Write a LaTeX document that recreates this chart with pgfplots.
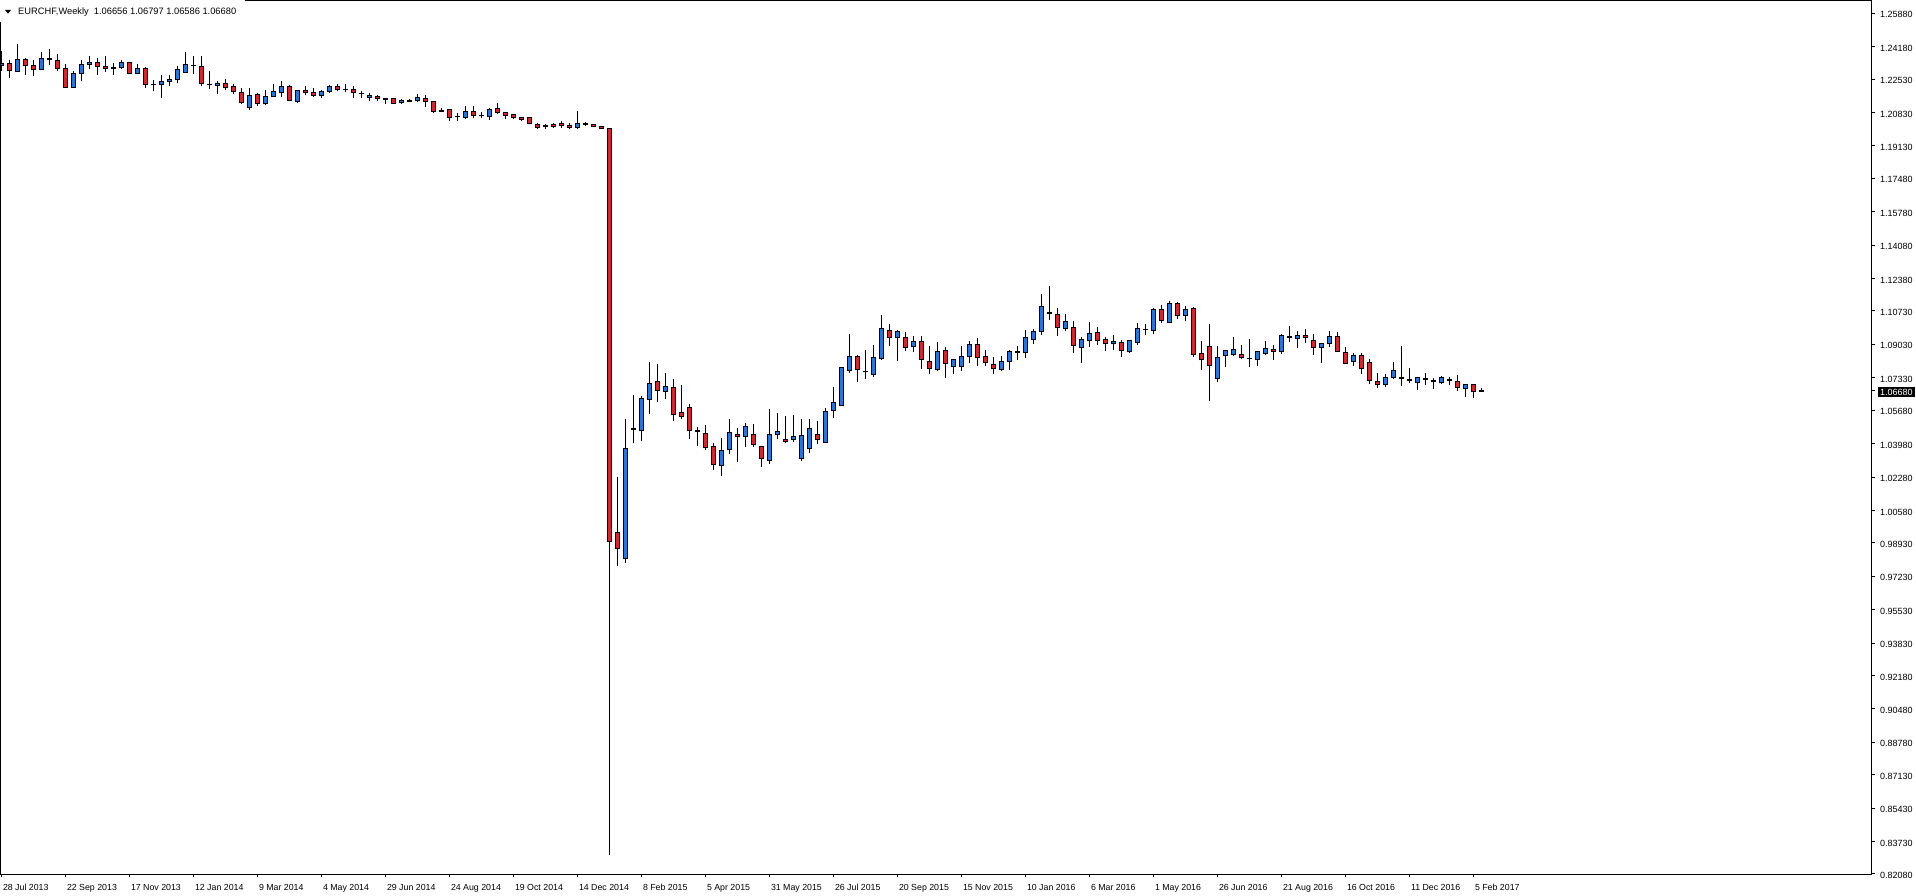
\documentclass[border=0pt]{standalone}
\usepackage{pgfplots}
\pgfplotsset{compat=1.18}
\usepackage{pgfplotstable}
\usepackage{fontspec}
\setmainfont{Liberation Sans}
\definecolor{cblue}{RGB}{30,120,225}
\definecolor{cred}{RGB}{220,35,45}

\pgfplotstableread{
x o h l c
0 1.2321 1.2396 1.2294 1.2331
1 1.2331 1.2352 1.2258 1.2296
2 1.2294 1.2430 1.2289 1.2352
3 1.2352 1.2362 1.2274 1.2321
4 1.2321 1.2352 1.2269 1.2301
5 1.2301 1.2392 1.2299 1.2357
6 1.2355 1.2408 1.2325 1.2352
7 1.2347 1.2379 1.2296 1.2308
8 1.2306 1.2331 1.2208 1.2213
9 1.2213 1.2296 1.2208 1.2282
10 1.2280 1.2348 1.2241 1.2326
11 1.2326 1.2369 1.2303 1.2336
12 1.2336 1.2359 1.2274 1.2316
13 1.2316 1.2369 1.2287 1.2306
14 1.2311 1.2333 1.2274 1.2308
15 1.2311 1.2350 1.2304 1.2336
16 1.2336 1.2338 1.2279 1.2284
17 1.2284 1.2328 1.2279 1.2306
18 1.2306 1.2314 1.2208 1.2225
19 1.2226 1.2247 1.2191 1.2224
20 1.2225 1.2272 1.2157 1.2240
21 1.2240 1.2272 1.2219 1.2250
22 1.2250 1.2318 1.2233 1.2301
23 1.2289 1.2389 1.2289 1.2326
24 1.2324 1.2369 1.2279 1.2322
25 1.2316 1.2369 1.2219 1.2230
26 1.2227 1.2292 1.2204 1.2225
27 1.2219 1.2243 1.2177 1.2231
28 1.2230 1.2255 1.2199 1.2209
29 1.2214 1.2230 1.2179 1.2189
30 1.2184 1.2209 1.2126 1.2132
31 1.2107 1.2209 1.2097 1.2170
32 1.2174 1.2184 1.2118 1.2128
33 1.2131 1.2199 1.2121 1.2163
34 1.2163 1.2230 1.2162 1.2189
35 1.2184 1.2245 1.2162 1.2214
36 1.2216 1.2221 1.2141 1.2146
37 1.2141 1.2199 1.2131 1.2194
38 1.2194 1.2219 1.2174 1.2184
39 1.2184 1.2209 1.2162 1.2172
40 1.2168 1.2199 1.2158 1.2189
41 1.2189 1.2225 1.2184 1.2214
42 1.2214 1.2230 1.2194 1.2199
43 1.2200 1.2230 1.2189 1.2198
44 1.2199 1.2219 1.2158 1.2184
45 1.2180 1.2194 1.2158 1.2178
46 1.2158 1.2184 1.2143 1.2168
47 1.2163 1.2174 1.2143 1.2153
48 1.2154 1.2158 1.2128 1.2152
49 1.2153 1.2158 1.2128 1.2131
50 1.2133 1.2153 1.2124 1.2143
51 1.2142 1.2150 1.2136 1.2140
52 1.2143 1.2175 1.2138 1.2158
53 1.2153 1.2170 1.2112 1.2138
54 1.2138 1.2138 1.2082 1.2087
55 1.2091 1.2107 1.2087 1.2089
56 1.2097 1.2102 1.2041 1.2057
57 1.2063 1.2082 1.2041 1.2061
58 1.2057 1.2114 1.2051 1.2087
59 1.2087 1.2114 1.2057 1.2067
60 1.2068 1.2084 1.2057 1.2066
61 1.2062 1.2107 1.2046 1.2097
62 1.2102 1.2133 1.2077 1.2082
63 1.2082 1.2087 1.2051 1.2067
64 1.2072 1.2077 1.2051 1.2057
65 1.2057 1.2062 1.2041 1.2046
66 1.2057 1.2057 1.2024 1.2026
67 1.2021 1.2031 1.2001 1.2006
68 1.2015 1.2026 1.1999 1.2013
69 1.2021 1.2029 1.2006 1.2011
70 1.2026 1.2041 1.2006 1.2016
71 1.2016 1.2031 1.1999 1.2006
72 1.2006 1.2092 1.1999 1.2026
73 1.2025 1.2033 1.2014 1.2023
74 1.2021 1.2026 1.2009 1.2011
75 1.2011 1.2016 1.1999 1.2001
76 1.2001 1.2006 0.8304 0.9902
77 0.9945 1.0226 0.9775 0.9863
78 0.9812 1.0525 0.9792 1.0372
79 1.0472 1.0643 1.0401 1.0470
80 1.0464 1.0638 1.0411 1.0626
81 1.0621 1.0811 1.0548 1.0703
82 1.0713 1.0801 1.0609 1.0667
83 1.0662 1.0759 1.0625 1.0688
84 1.0682 1.0728 1.0515 1.0545
85 1.0555 1.0698 1.0525 1.0535
86 1.0581 1.0601 1.0421 1.0464
87 1.0464 1.0484 1.0386 1.0462
88 1.0448 1.0494 1.0367 1.0377
89 1.0382 1.0403 1.0263 1.0291
90 1.0285 1.0428 1.0233 1.0362
91 1.0367 1.0525 1.0345 1.0453
92 1.0443 1.0479 1.0304 1.0433
93 1.0433 1.0504 1.0381 1.0484
94 1.0443 1.0499 1.0381 1.0392
95 1.0382 1.0382 1.0279 1.0321
96 1.0311 1.0576 1.0294 1.0443
97 1.0443 1.0555 1.0421 1.0459
98 1.0418 1.0540 1.0401 1.0408
99 1.0418 1.0545 1.0408 1.0433
100 1.0321 1.0525 1.0311 1.0438
101 1.0372 1.0525 1.0350 1.0474
102 1.0443 1.0515 1.0397 1.0418
103 1.0403 1.0581 1.0403 1.0560
104 1.0565 1.0688 1.0528 1.0606
105 1.0591 1.0784 1.0591 1.0784
106 1.0769 1.0957 1.0759 1.0840
107 1.0840 1.0850 1.0713 1.0774
108 1.0765 1.0876 1.0728 1.0763
109 1.0749 1.0901 1.0738 1.0835
110 1.0830 1.1051 1.0822 1.0984
111 1.0973 1.1008 1.0896 1.0937
112 1.0937 1.0978 1.0820 1.0967
113 1.0937 1.0967 1.0871 1.0886
114 1.0891 1.0947 1.0866 1.0917
115 1.0917 1.0947 1.0779 1.0825
116 1.0815 1.0896 1.0754 1.0779
117 1.0774 1.0917 1.0769 1.0866
118 1.0871 1.0891 1.0733 1.0805
119 1.0789 1.0830 1.0754 1.0825
120 1.0789 1.0896 1.0769 1.0840
121 1.0840 1.0922 1.0810 1.0901
122 1.0901 1.0937 1.0795 1.0835
123 1.0840 1.0876 1.0795 1.0810
124 1.0800 1.0840 1.0754 1.0779
125 1.0774 1.0845 1.0769 1.0815
126 1.0815 1.0876 1.0774 1.0866
127 1.0865 1.0896 1.0825 1.0863
128 1.0861 1.0978 1.0835 1.0937
129 1.0927 1.0983 1.0906 1.0967
130 1.0967 1.1161 1.0952 1.1095
131 1.1065 1.1198 1.1029 1.1063
132 1.1054 1.1090 1.0947 1.0988
133 1.0983 1.1059 1.0973 1.1018
134 1.0988 1.1023 1.0861 1.0896
135 1.0886 1.0942 1.0810 1.0927
136 1.0922 1.1018 1.0891 1.0957
137 1.0962 1.0993 1.0901 1.0922
138 1.0927 1.0942 1.0871 1.0906
139 1.0906 1.0952 1.0876 1.0917
140 1.0912 1.0927 1.0840 1.0871
141 1.0866 1.0927 1.0861 1.0922
142 1.0912 1.1013 1.0901 1.0983
143 1.0979 1.1008 1.0952 1.0977
144 1.0973 1.1090 1.0957 1.1079
145 1.1079 1.1105 1.1013 1.1023
146 1.1013 1.1125 1.1013 1.1110
147 1.1110 1.1120 1.1034 1.1049
148 1.1049 1.1100 1.1023 1.1079
149 1.1084 1.1095 1.0840 1.0850
150 1.0855 1.0922 1.0774 1.0825
151 1.0891 1.1008 1.0616 1.0794
152 1.0728 1.0896 1.0713 1.0835
153 1.0845 1.0871 1.0789 1.0871
154 1.0850 1.0942 1.0845 1.0876
155 1.0850 1.0901 1.0830 1.0835
156 1.0833 1.0932 1.0789 1.0831
157 1.0825 1.0871 1.0794 1.0866
158 1.0855 1.0922 1.0850 1.0881
159 1.0876 1.0901 1.0825 1.0866
160 1.0866 1.0957 1.0855 1.0947
161 1.0942 1.0998 1.0917 1.0940
162 1.0932 1.0973 1.0886 1.0947
163 1.0947 1.0983 1.0912 1.0937
164 1.0922 1.0957 1.0850 1.0886
165 1.0886 1.0912 1.0810 1.0906
166 1.0906 1.0973 1.0891 1.0942
167 1.0942 1.0968 1.0866 1.0866
168 1.0861 1.0891 1.0805 1.0805
169 1.0815 1.0861 1.0794 1.0845
170 1.0845 1.0861 1.0754 1.0779
171 1.0810 1.0830 1.0703 1.0718
172 1.0713 1.0759 1.0682 1.0698
173 1.0698 1.0754 1.0688 1.0733
174 1.0733 1.0815 1.0728 1.0769
175 1.0734 1.0896 1.0693 1.0732
176 1.0724 1.0784 1.0708 1.0722
177 1.0708 1.0738 1.0672 1.0733
178 1.0726 1.0759 1.0698 1.0727
179 1.0719 1.0733 1.0677 1.0717
180 1.0708 1.0744 1.0703 1.0733
181 1.0722 1.0738 1.0698 1.0720
182 1.0713 1.0749 1.0667 1.0682
183 1.0677 1.0703 1.0635 1.0698
184 1.0698 1.0703 1.0632 1.0662
185 1.06656 1.06797 1.06586 1.06680
}\candles

\begin{document}
\begin{tikzpicture}[x=1pt,y=1pt]
\useasboundingbox (0,0) rectangle (1916,896);
\begin{axis}[
  at={(1,11)}, anchor=south west,
  scale only axis, width=1871pt, height=873.5pt,
  xmin=-0.125, xmax=233.75, ymin=0.82057, ymax=1.26511,
  axis line style={line width=1pt, black},
  tick style={line width=1pt, black},
  major tick length=3pt, tick align=outside,
  xtick pos=left, ytick pos=right, yticklabel pos=right,
  xtick={0,8,...,184},
  xticklabels={28 Jul 2013, 22 Sep 2013, 17 Nov 2013, 12 Jan 2014, 9 Mar 2014, 4 May 2014, 29 Jun 2014, 24 Aug 2014, 19 Oct 2014, 14 Dec 2014, 8 Feb 2015, 5 Apr 2015, 31 May 2015, 26 Jul 2015, 20 Sep 2015, 15 Nov 2015, 10 Jan 2016, 6 Mar 2016, 1 May 2016, 26 Jun 2016, 21 Aug 2016, 16 Oct 2016, 11 Dec 2016, 5 Feb 2017},
  xticklabel style={font=\fontsize{8.8}{10}\selectfont, anchor=base west, inner sep=0pt, xshift=1pt, yshift=-12.7pt},
  ytick={0.82080,0.83730,0.85430,0.87130,0.88780,0.90480,0.92180,0.93830,0.95530,0.97230,0.98930,1.00580,1.02280,1.03980,1.05680,1.07330,1.09030,1.10730,1.12380,1.14080,1.15780,1.17480,1.19130,1.20830,1.22530,1.24180,1.25880},
  yticklabels={0.82080,0.83730,0.85430,0.87130,0.88780,0.90480,0.92180,0.93830,0.95530,0.97230,0.98930,1.00580,1.02280,1.03980,1.05680,1.07330,1.09030,1.10730,1.12380,1.14080,1.15780,1.17480,1.19130,1.20830,1.22530,1.24180,1.25880},
  yticklabel style={font=\fontsize{9}{10}\selectfont, anchor=west, inner sep=0pt, xshift=5pt, yshift=-1.5pt},
  extra y ticks={1.06680},
  extra y tick labels={1.06680},
  extra y tick style={yticklabel style={fill=black, text=white, inner xsep=2pt, inner ysep=1.5pt, xshift=-2pt}},
]
% wicks
\addplot[draw=none, mark=none, forget plot,
  error bars/.cd, y dir=plus, y explicit, error mark=none,
  error bar style={draw=black, line width=1pt}]
  table[x=x, y=l, y error plus expr={\thisrow{h}-\thisrow{l}}] {\candles};
% body outline
\addplot[draw=none, mark=none, forget plot,
  error bars/.cd, y dir=plus, y explicit, error mark=none,
  error bar style={draw=black, line width=5pt}]
  table[x=x, y expr={min(\thisrow{o},\thisrow{c})-0.0003}, y error plus expr={abs(\thisrow{c}-\thisrow{o})+0.0006}] {\candles};
% bullish fill
\addplot[draw=none, mark=none, forget plot,
  error bars/.cd, y dir=plus, y explicit, error mark=none,
  error bar style={draw=cblue, line width=3pt}]
  table[x=x, y expr={\thisrow{o}+0.0002}, y error plus expr={max(\thisrow{c}-\thisrow{o}-0.0004,0)}] {\candles};
% bearish fill
\addplot[draw=none, mark=none, forget plot,
  error bars/.cd, y dir=plus, y explicit, error mark=none,
  error bar style={draw=cred, line width=3pt}]
  table[x=x, y expr={\thisrow{c}+0.0002}, y error plus expr={max(\thisrow{o}-\thisrow{c}-0.0004,0)}] {\candles};
\end{axis}
\fill[white] (0,874) rectangle (245,896);
\fill[black] (5,886) -- (11,886) -- (8,882.3) -- cycle;
\node[anchor=base west, inner sep=0pt, font=\fontsize{9.3}{11}\selectfont] at (18,881) {EURCHF,Weekly\ \ 1.06656 1.06797 1.06586 1.06680};
\end{tikzpicture}
\end{document}
